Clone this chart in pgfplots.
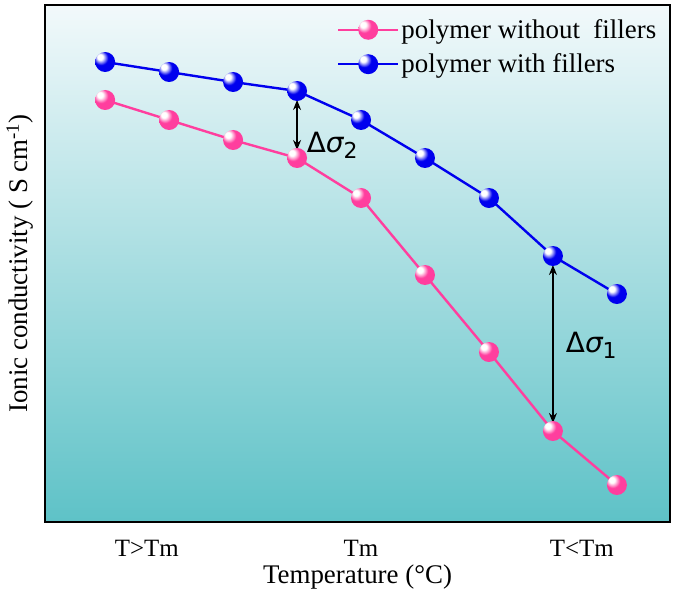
\documentclass[border=0pt]{standalone}
\usepackage{fontspec}
\setmainfont{Liberation Serif}
\newfontfamily\dejavu{DejaVu Sans}
\usepackage{pgfplots}
\pgfplotsset{compat=1.18}
\usetikzlibrary{arrows.meta}
\definecolor{pinkline}{HTML}{FF3E9E}
\definecolor{blueline}{HTML}{0000EE}
\definecolor{bgtop}{HTML}{F2F9FB}
\definecolor{bgbot}{HTML}{5EC2C7}

% shaded balls with a small white highlight
\pgfdeclareradialshading{pinkshade}{\pgfpoint{-14bp}{14bp}}{%
  color(0bp)=(white); color(7bp)=(white); color(18bp)=(pinkline);
  color(40bp)=(pinkline); color(60bp)=(pinkline!85!black); color(70bp)=(pinkline!85!black)}
\pgfdeclareradialshading{blueshade}{\pgfpoint{-14bp}{14bp}}{%
  color(0bp)=(white); color(7bp)=(white); color(18bp)=(blueline);
  color(40bp)=(blueline); color(60bp)=(blueline!85!black); color(70bp)=(blueline!85!black)}
\pgfdeclareplotmark{pinkball}{%
  \pgfpathcircle{\pgfpointorigin}{\pgfplotmarksize}%
  \pgfshadepath{pinkshade}{0}\pgfusepath{}}
\pgfdeclareplotmark{blueball}{%
  \pgfpathcircle{\pgfpointorigin}{\pgfplotmarksize}%
  \pgfshadepath{blueshade}{0}\pgfusepath{}}

\newcommand{\dsig}[1]{{\dejavu Δ{\itshape σ}\raisebox{-6bp}{\fontsize{22}{26}\selectfont #1}}}

\begin{document}
\begin{tikzpicture}
\begin{axis}[
    scale only axis,
    width=625bp, height=517bp,
    xmin=0.06, xmax=9.83, ymin=0, ymax=5.17,
    xtick={1.65,5,8.45},
    xticklabels={T>Tm, Tm, T<Tm},
    ytick=\empty,
    major tick length=0pt,
    axis line style={line width=1.4bp},
    axis background/.style={top color=bgtop, bottom color=bgbot},
    xlabel={Temperature (°C)},
    ylabel={Ionic conductivity ( S cm\textsuperscript{-1})},
    ticklabel style={font=\fontsize{25}{29}\selectfont},
    label style={font=\fontsize{27}{31}\selectfont},
    xticklabel style={anchor=center, yshift=-26bp},
    xlabel style={at={(axis description cs:0.5,0)}, anchor=center, yshift=-55bp},
    ylabel style={at={(axis description cs:-0.04,0.5)}, anchor=center, rotate=0},
    legend style={at={(0.983,0.978)}, anchor=north east, draw=none, fill=none,
        font=\fontsize{27}{31}\selectfont, row sep=10bp, inner sep=1bp},
    legend cell align=left,
    legend image code/.code={
        \draw[mark repeat=2,mark phase=2,#1] plot coordinates {(0bp,0bp) (30bp,0bp) (60bp,0bp)};
    },
]

\addplot[pinkline, line width=2.4bp, mark=pinkball, mark size=10bp]
    coordinates {
    (1,4.22) (2,4.02) (3,3.82) (4,3.64) (5,3.24) (6,2.47) (7,1.70) (8,0.91) (9,0.37)
};
\addlegendentry{polymer without\ \ fillers}

\addplot[blueline, line width=2.4bp, mark=blueball, mark size=10bp]
    coordinates {
    (1,4.60) (2,4.50) (3,4.40) (4,4.31) (5,4.02) (6,3.64) (7,3.24) (8,2.66) (9,2.28)
};
\addlegendentry{polymer with fillers}

% delta arrows
\draw[{Stealth[length=10bp,width=8bp]}-{Stealth[length=10bp,width=8bp]}, line width=1.5bp]
    (axis cs:4,4.22) -- (axis cs:4,3.72);
\draw[{Stealth[length=10bp,width=8bp]}-{Stealth[length=10bp,width=8bp]}, line width=1.5bp]
    (axis cs:8,2.57) -- (axis cs:8,0.99);
\node[font=\fontsize{28}{32}\selectfont] at (axis cs:4.55,3.77) {\dsig{2}};
\node[font=\fontsize{28}{32}\selectfont] at (axis cs:8.6,1.77) {\dsig{1}};

\coordinate (bl) at (rel axis cs:0,0);
\coordinate (tr) at (rel axis cs:1,1);
\end{axis}
\pgfresetboundingbox
\path ([shift={(-45bp,-74bp)}]bl) rectangle ([shift={(15bp,5bp)}]tr);
\end{tikzpicture}
\end{document}
